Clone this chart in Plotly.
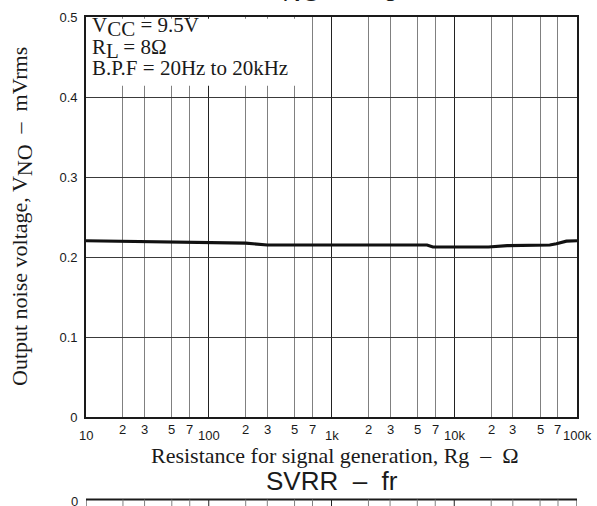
import math
import plotly.graph_objects as go

# ---- data ----
rg_ohm = [10, 20, 30, 50, 70, 100, 200, 300, 500, 1000, 2000, 5000, 6000, 6700,
          10000, 19000, 27000, 48000, 60000, 68000, 82000, 100000]
vno_mvrms = [0.2203, 0.2195, 0.2190, 0.2187, 0.2183, 0.2178, 0.2174, 0.2150, 0.2150,
             0.2150, 0.2150, 0.2150, 0.2150, 0.2125, 0.2125, 0.2125, 0.2141, 0.2150,
             0.2150, 0.2166, 0.2199, 0.2203]

y_ticks = [0, 0.1, 0.2, 0.3, 0.4, 0.5]
y_tick_labels = ["0", "0.1", "0.2", "0.3", "0.4", "0.5"]
decades = [10, 100, 1000, 10000, 100000]
decade_labels = ["10", "100", "1k", "10k", "100k"]
minor_mults = [2, 3, 5, 7]
minor_labels = ["2", "3", "5", "7"]


def sub(txt, px):
    return '<sub><span style="font-size:%dpx">%s</span></sub>' % (px, txt)


BOX_PX = 21
conditions = ["V" + sub("CC", BOX_PX) + " = 9.5V",
              "R" + sub("L", BOX_PX) + " = 8Ω",
              "B.P.F = 20Hz to 20kHz"]
title_text = "V" + sub("NO", 26) + "  –  Rg"
next_title_text = "SVRR  –  fr"
x_title = "Resistance for signal generation, Rg  –  Ω"
y_title = "Output noise voltage, V" + sub("NO", 22) + "  –  mVrms"

SERIF = "Liberation Serif, Times New Roman, serif"
SANS = "Liberation Sans, Arial, sans-serif"
INK = "#1a1a1a"

minor_vals = [m * d for d in decades[:-1] for m in minor_mults]

fig = go.Figure()
fig.add_trace(go.Scatter(x=rg_ohm, y=vno_mvrms, mode="lines",
                         line=dict(color="#111111", width=3.2), showlegend=False,
                         hoverinfo="skip"))

annotations = []
# x tick labels (minor raised, decades lowered)
for d in decades[:-1]:
    for m, lab in zip(minor_mults, minor_labels):
        annotations.append(dict(x=math.log10(m * d), y=0, xref="x", yref="paper",
                                text=lab, showarrow=False, yanchor="middle",
                                yshift=-12, font=dict(family=SANS, size=13, color=INK)))
for d, lab in zip(decades, decade_labels):
    annotations.append(dict(x=math.log10(d), y=0, xref="x", yref="paper",
                            text=lab, showarrow=False, yanchor="middle",
                            yshift=-18, font=dict(family=SANS, size=13, color=INK)))
# axis titles
annotations.append(dict(x=0.5, y=0, xref="paper", yref="paper", text=x_title,
                        showarrow=False, yanchor="middle", xshift=3, yshift=-38,
                        font=dict(family=SERIF, size=22, color=INK)))
annotations.append(dict(x=0, y=0.5, xref="paper", yref="paper", text=y_title,
                        showarrow=False, xanchor="center", yanchor="middle",
                        xshift=-64, textangle=-90,
                        font=dict(family=SERIF, size=22, color=INK)))
# condition text box
box_shifts = [-10, -32, -51]
for t, ys in zip(conditions, box_shifts):
    annotations.append(dict(x=0, y=1, xref="paper", yref="paper", text=t,
                            showarrow=False, xanchor="left", yanchor="middle",
                            xshift=4, yshift=ys,
                            font=dict(family=SERIF, size=BOX_PX, color=INK)))
# chart title (cut off at top)
annotations.append(dict(x=0.5, y=1, xref="paper", yref="paper", text=title_text,
                        showarrow=False, yanchor="middle", yshift=28,
                        font=dict(family=SANS, size=26, color=INK)))
# next chart title and its "0" label
annotations.append(dict(x=0.5, y=0, xref="paper", yref="paper", text=next_title_text,
                        showarrow=False, yanchor="middle", yshift=-64,
                        font=dict(family=SANS, size=26, color=INK)))
annotations.append(dict(x=0, y=0, xref="paper", yref="paper", text="0",
                        showarrow=False, xanchor="right", yanchor="middle",
                        xshift=-6, yshift=-84,
                        font=dict(family=SANS, size=13, color=INK)))

shapes = []
# white background behind the condition text
shapes.append(dict(type="rect", xref="paper", yref="paper", x0=0.004, x1=0.436,
                   y0=0.828, y1=0.9955, fillcolor="white", line=dict(width=0),
                   layer="above"))
# top border of next chart and its grid stubs
y_next = -84 / 407
shapes.append(dict(type="line", xref="paper", yref="paper", x0=0, x1=1,
                   y0=y_next, y1=y_next, line=dict(color=INK, width=2)))
for v in decades + minor_vals:
    shapes.append(dict(type="line", xref="x", yref="paper", x0=v, x1=v,
                       y0=y_next, y1=y_next - 0.03,
                       line=dict(color="#222222" if v in decades else "#808080", width=1)))

fig.update_layout(
    width=597, height=506,
    margin=dict(l=86, r=20, t=10, b=89),
    paper_bgcolor="white", plot_bgcolor="white",
    showlegend=False,
    annotations=annotations,
    shapes=shapes,
    xaxis=dict(type="log", range=[1, 5], tickvals=decades, showticklabels=False,
               ticks="", showgrid=True, gridcolor="#222222", gridwidth=1,
               minor=dict(tickvals=minor_vals, showgrid=True, gridcolor="#808080",
                          gridwidth=1, ticks=""),
               showline=True, mirror=True, linecolor=INK, linewidth=1.6,
               zeroline=False),
    yaxis=dict(range=[0, 0.5], tickvals=y_ticks, ticktext=y_tick_labels,
               ticks="", ticklabelstandoff=4,
               tickfont=dict(family=SANS, size=13, color=INK),
               showgrid=True, gridcolor="#3a3a3a", gridwidth=1,
               showline=True, mirror=True, linecolor=INK, linewidth=1.6,
               zeroline=False),
)

fig.write_html("out.html")
